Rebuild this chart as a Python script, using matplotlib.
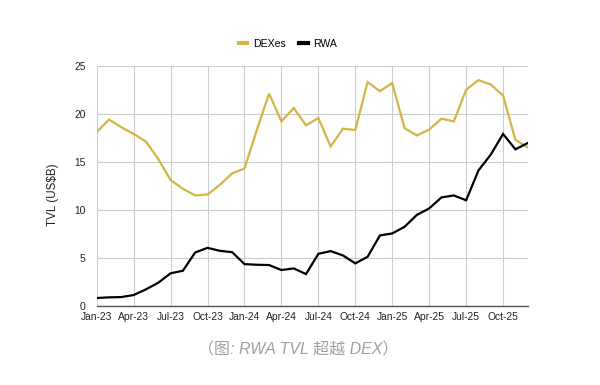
import matplotlib
matplotlib.use("Agg")
import matplotlib.pyplot as plt
from matplotlib.lines import Line2D
from matplotlib import font_manager as fm

# pick the regular (non-narrow) Liberation Sans
main_font = 'Liberation Sans'
for f in fm.fontManager.ttflist:
    if f.name == 'Liberation Sans' and 'Narrow' not in f.fname:
        main_font = f.name
        break
plt.rcParams['font.family'] = [main_font, 'DejaVu Sans']

months = ['Jan-23', 'Feb-23', 'Mar-23', 'Apr-23', 'May-23', 'Jun-23', 'Jul-23', 'Aug-23', 'Sep-23',
          'Oct-23', 'Nov-23', 'Dec-23', 'Jan-24', 'Feb-24', 'Mar-24', 'Apr-24', 'May-24', 'Jun-24',
          'Jul-24', 'Aug-24', 'Sep-24', 'Oct-24', 'Nov-24', 'Dec-24', 'Jan-25', 'Feb-25', 'Mar-25',
          'Apr-25', 'May-25', 'Jun-25', 'Jul-25', 'Aug-25', 'Sep-25', 'Oct-25', 'Nov-25', 'Dec-25']

dexes = [18.1, 19.4, 18.6, 17.9, 17.1, 15.3, 13.1, 12.2, 11.5, 11.6, 12.6, 13.8,
         14.3, 18.3, 22.1, 19.2, 20.6, 18.8, 19.55, 16.6, 18.45, 18.3, 23.3, 22.35,
         23.2, 18.5, 17.75, 18.35, 19.5, 19.2, 22.5, 23.5, 23.05, 21.9, 17.3, 16.5]

rwa = [0.83, 0.9, 0.93, 1.14, 1.73, 2.42, 3.4, 3.67, 5.57, 6.05, 5.74, 5.6,
       4.36, 4.29, 4.26, 3.74, 3.91, 3.32, 5.43, 5.71, 5.26, 4.43, 5.12, 7.34,
       7.55, 8.24, 9.48, 10.15, 11.3, 11.5, 11.0, 14.1, 15.75, 17.9, 16.3, 16.95]

yticks = [0, 5, 10, 15, 20, 25]

gold = '#D2B545'
W, H = 600, 385
fig = plt.figure(figsize=(6, 3.85), dpi=100)
ax = fig.add_axes([96.7 / W, 1 - 306 / H, (527.7 - 96.7) / W, (306 - 65.7) / H])

x = list(range(len(months)))
ax.plot(x, dexes, color=gold, lw=1.6, solid_joinstyle='miter', zorder=3)
ax.plot(x, rwa, color='black', lw=1.6, solid_joinstyle='miter', zorder=4)

ax.set_xlim(0, len(months) - 1)
ax.set_ylim(0, 25)
tick_idx = list(range(0, len(months), 3))
ax.set_xticks(tick_idx)
ax.set_xticklabels([months[i] for i in tick_idx])
ax.set_yticks(yticks)
ax.set_yticklabels([str(v) for v in yticks])
ax.tick_params(axis='both', length=0, labelsize=7.4, colors='#222222')
ax.tick_params(axis='x', pad=4)
ax.tick_params(axis='y', pad=8)
ax.grid(True, color='#cccccc', lw=0.8)
for s in ['top', 'right', 'left']:
    ax.spines[s].set_visible(False)
ax.spines['bottom'].set_color('#555555')
ax.spines['bottom'].set_linewidth(1.0)
ax.set_axisbelow(True)

fig.text(53 / W, 1 - 195 / H, 'TVL (US$B)', rotation=90, ha='center', va='center',
         fontsize=8.4, color='#222222')

handles = [Line2D([0], [0], color=gold, lw=3), Line2D([0], [0], color='black', lw=3)]
fig.legend(handles, ['DEXes', 'RWA'], loc='center', bbox_to_anchor=(288 / W, 1 - 44 / H),
           ncol=2, frameon=False, fontsize=7.6, handlelength=0.8, handletextpad=0.55,
           columnspacing=1.3)

fig.text(298 / W, 1 - 350 / H, '（图: RWA TVL 超越 DEX）', ha='center', va='center',
         fontsize=11.5, color='#a0a0a0', style='italic',
         family=[main_font, 'Noto Sans CJK SC', 'DejaVu Sans'])

fig.savefig('out.png', dpi=100, facecolor='white')
